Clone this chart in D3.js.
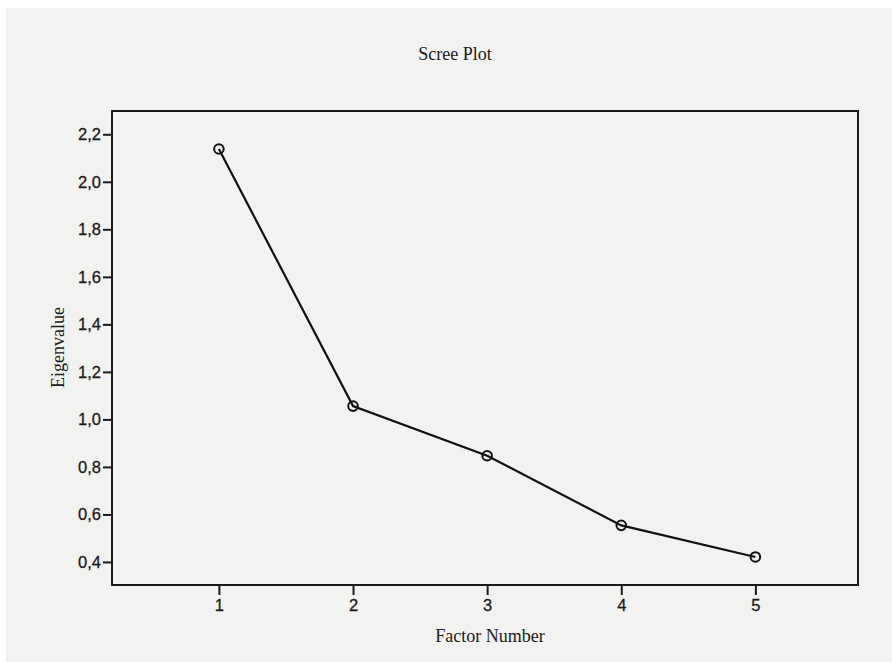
<!DOCTYPE html>
<html>
<head>
<meta charset="utf-8">
<script src="https://cdn.jsdelivr.net/npm/d3@7"></script>
<style>
html,body{margin:0;padding:0;background:#fff;}
svg{display:block;}
</style>
</head>
<body>
<svg id="chart" width="892" height="662"></svg>
<script>
const factors = [1, 2, 3, 4, 5];
const eigenvalues = [2.138, 1.056, 0.847, 0.554, 0.421];
const yTicks = [0.4, 0.6, 0.8, 1.0, 1.2, 1.4, 1.6, 1.8, 2.0, 2.2];
const titleText = "Scree Plot";
const xTitle = "Factor Number";
const yTitle = "Eigenvalue";

const W = 892, H = 662;
const margin = {left: 112, right: 892 - 858, top: 111, bottom: 662 - 585};
const svg = d3.select("#chart");

svg.append("rect").attr("x", 6).attr("y", 8).attr("width", W - 6).attr("height", H - 8).attr("fill", "#f2f2f1");

const x = d3.scaleLinear().domain([0.203, 5.765]).range([margin.left, W - margin.right]);
const y = d3.scaleLinear().domain([0.303, 2.298]).range([H - margin.bottom, margin.top]);

const fmt = d => d.toFixed(1).replace(".", ",");

// frame
svg.append("rect")
  .attr("x", x.range()[0]).attr("y", y.range()[1])
  .attr("width", x.range()[1] - x.range()[0])
  .attr("height", y.range()[0] - y.range()[1])
  .attr("fill", "none").attr("stroke", "#1a1a1a").attr("stroke-width", 2);

const yAxis = svg.append("g")
  .attr("transform", `translate(${x.range()[0]},0)`)
  .call(d3.axisLeft(y).tickValues(yTicks).tickFormat(fmt).tickSize(9).tickPadding(2));
const xAxis = svg.append("g")
  .attr("transform", `translate(0,${y.range()[0]})`)
  .call(d3.axisBottom(x).tickValues(factors).tickFormat(d3.format("d")).tickSize(10).tickPadding(4));

[xAxis, yAxis].forEach(g => {
  g.select(".domain").remove();
  g.selectAll(".tick line").attr("stroke", "#1a1a1a").attr("stroke-width", 2);
  g.selectAll(".tick text").attr("fill", "#1a1a1a")
    .style("font-family", "'Liberation Sans', Arial, sans-serif")
    .style("font-size", "16.5px")
    .attr("stroke", "#1a1a1a").attr("stroke-width", 0.3);
});

// line
const pts = factors.map((f, i) => [f, eigenvalues[i]]);
svg.append("path").datum(pts)
  .attr("d", d3.line().x(d => x(d[0])).y(d => y(d[1])))
  .attr("fill", "none").attr("stroke", "#111").attr("stroke-width", 2.2);

svg.selectAll("circle.pt").data(pts).join("circle")
  .attr("class", "pt")
  .attr("cx", d => x(d[0])).attr("cy", d => y(d[1])).attr("r", 4.8)
  .attr("fill", "none").attr("stroke", "#111").attr("stroke-width", 2);

const serif = "'Liberation Serif', 'Times New Roman', serif";
svg.append("text").attr("x", 455).attr("y", 60).attr("text-anchor", "middle")
  .style("font-family", serif).style("font-size", "18px").attr("fill", "#1a1a1a").text(titleText);
svg.append("text").attr("x", 490).attr("y", 641.5).attr("text-anchor", "middle")
  .style("font-family", serif).style("font-size", "18px").attr("fill", "#1a1a1a").text(xTitle);
svg.append("text").attr("transform", `translate(63.5,347.5) rotate(-90)`).attr("text-anchor", "middle")
  .style("font-family", serif).style("font-size", "18px").attr("fill", "#1a1a1a").text(yTitle);
</script>
</body>
</html>
